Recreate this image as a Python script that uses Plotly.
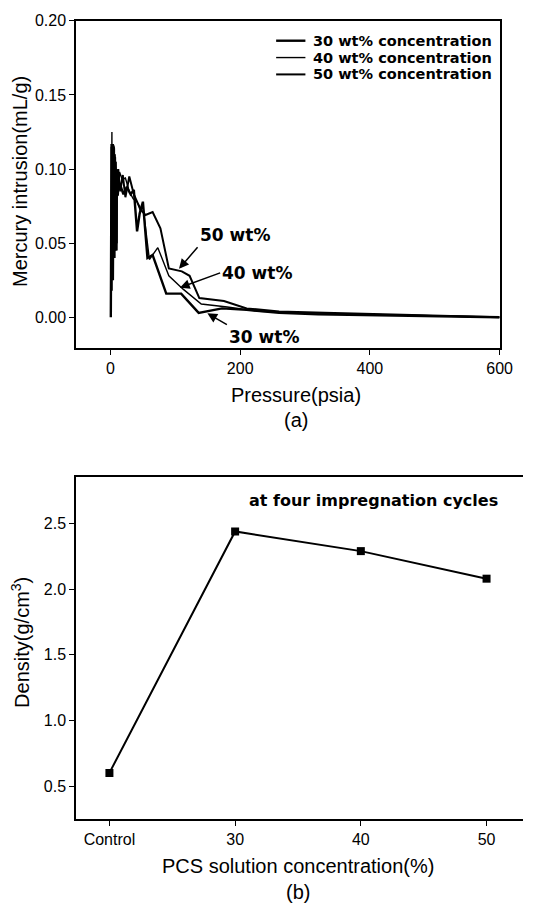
import plotly.graph_objects as go

# ---- Panel (a) data: mercury intrusion vs pressure ----
p30 = [0.5, 0.9, 1.3, 1.7, 2.1, 2.5, 2.9, 3.3, 3.7, 4.1, 4.5, 4.9, 5.3, 5.7, 6.1, 6.5, 6.9, 7.3, 7.7, 8.1, 8.5, 8.9, 9.3, 9.7, 11, 13, 16, 20, 25, 31, 36, 41, 45, 50, 57, 65, 86, 109, 136, 150, 172, 210, 260, 320, 400, 500, 600]
v30 = [0.0, 0.09, 0.02, 0.117, 0.03, 0.11, 0.045, 0.116, 0.025, 0.112, 0.05, 0.115, 0.045, 0.11, 0.04, 0.108, 0.05, 0.105, 0.045, 0.1, 0.05, 0.098, 0.045, 0.095, 0.085, 0.09, 0.088, 0.083, 0.088, 0.083, 0.086, 0.058, 0.070, 0.078, 0.040, 0.042, 0.016, 0.016, 0.003, 0.004, 0.006, 0.005, 0.003, 0.002, 0.0015, 0.001, 0.0]

p40 = [1.0, 1.4, 1.8, 2.2, 2.6, 3.0, 3.4, 3.8, 4.2, 4.6, 5.0, 5.4, 5.8, 6.2, 6.6, 7.0, 7.4, 7.8, 8.2, 8.6, 9.0, 9.4, 9.8, 10.2, 12, 14, 18, 23, 29, 35, 41, 46, 50, 60, 73, 90, 112, 140, 180, 230, 300, 400, 500, 600]
v40 = [0.02, 0.11, 0.035, 0.125, 0.04, 0.117, 0.03, 0.115, 0.045, 0.116, 0.05, 0.112, 0.04, 0.11, 0.05, 0.108, 0.045, 0.105, 0.05, 0.1, 0.055, 0.098, 0.05, 0.092, 0.082, 0.098, 0.093, 0.094, 0.085, 0.08, 0.078, 0.072, 0.075, 0.039, 0.047, 0.028, 0.019, 0.009, 0.007, 0.004, 0.003, 0.002, 0.001, 0.0]

p50 = [1.2, 1.6, 2.0, 2.4, 2.8, 3.2, 3.6, 4.0, 4.4, 4.8, 5.2, 5.6, 6.0, 6.4, 6.8, 7.2, 7.6, 8.0, 8.4, 8.8, 9.2, 9.6, 10, 12, 15, 19, 23, 29, 36, 42, 48, 54, 65, 77, 90, 110, 122, 137, 175, 210, 260, 330, 420, 520, 600]
v50 = [0.05, 0.115, 0.018, 0.112, 0.045, 0.116, 0.035, 0.117, 0.045, 0.116, 0.04, 0.114, 0.05, 0.11, 0.045, 0.108, 0.05, 0.105, 0.045, 0.1, 0.05, 0.095, 0.08, 0.1, 0.085, 0.096, 0.081, 0.095, 0.083, 0.077, 0.072, 0.069, 0.071, 0.060, 0.033, 0.031, 0.028, 0.013, 0.011, 0.006, 0.004, 0.003, 0.002, 0.001, 0.0]

series_names = ["30 wt% concentration", "40 wt% concentration", "50 wt% concentration"]
series_widths = [2.4, 1.4, 2.0]

# curve labels: text, arrow tail (text corner), arrow head (data units), text anchors
label_text = ["50 wt%", "40 wt%", "30 wt%"]
arrow_tail = [(134.3, 0.0473), (169.1, 0.030), (179.5, -0.0050)]
arrow_head = [(105.7, 0.0327), (107, 0.020), (149.4, 0.0027)]
label_yanchor = ["bottom", "middle", "top"]

# ---- Panel (b) data: density vs PCS concentration ----
conc_cats = ["Control", "30", "40", "50"]
density = [0.60, 2.44, 2.29, 2.08]

W, H = 536, 912
def fx(px):
    return px / W
def fy(py):
    return 1 - py / H

fig = go.Figure()
for (p, v), name, w in zip([(p30, v30), (p40, v40), (p50, v50)], series_names, series_widths):
    fig.add_trace(go.Scatter(x=p, y=v, mode="lines", name=name, showlegend=False,
                             line=dict(color="black", width=w),
                             xaxis="x", yaxis="y"))

fig.add_trace(go.Scatter(x=conc_cats, y=density, mode="lines+markers",
                         showlegend=False,
                         line=dict(color="black", width=2),
                         marker=dict(symbol="square", size=8, color="black"),
                         xaxis="x2", yaxis="y2"))

tickfont = dict(family="Liberation Sans, Arial", size=16, color="black")
axis_common = dict(showline=True, linecolor="black", linewidth=1.6, ticks="outside",
                   ticklen=5, tickwidth=1.3, tickcolor="black", showgrid=False,
                   zeroline=False, tickfont=tickfont)

fig.update_layout(
    width=W, height=H, margin=dict(l=0, r=0, t=0, b=0),
    paper_bgcolor="white", plot_bgcolor="white",
    xaxis=dict(domain=[fx(78), fx(512)], range=[-53, 600], tickvals=[0, 200, 400, 600],
               mirror=True, anchor="y", **axis_common),
    yaxis=dict(domain=[fy(343), fy(13)], range=[-0.0207, 0.2], tickvals=[0, 0.05, 0.10, 0.15, 0.20],
               tickformat=".2f", mirror=True, anchor="x", **axis_common),
    xaxis2=dict(domain=[fx(78), 1.0], range=[-0.265, 3.29], type="category",
                mirror=True, anchor="y2", **axis_common),
    yaxis2=dict(domain=[fy(818), fy(473)], range=[0.25, 2.856], tickvals=[0.5, 1.0, 1.5, 2.0, 2.5],
                tickformat=".1f", mirror=False, anchor="x2", **axis_common),
    showlegend=False,
)

# legend drawn as line swatches + labels (top-right of panel a)
legend_rows_y = [33, 50, 67]
shapes = []
ann = []
for name, w, ry in zip(series_names, series_widths, legend_rows_y):
    shapes.append(dict(type="line", xref="paper", yref="paper", x0=fx(283), x1=fx(313),
                       y0=fy(ry), y1=fy(ry), line=dict(color="black", width=w)))
    ann.append(dict(text="<b>%s</b>" % name, x=fx(319), y=fy(ry), xref="paper", yref="paper",
                    xanchor="left", yanchor="middle", showarrow=False,
                    font=dict(family="DejaVu Sans", size=14.5, color="black")))

titlefont = dict(family="Liberation Sans, Arial", size=20, color="black")
def title_ann(text, px, py, angle=0):
    return dict(text=text, x=fx(px), y=fy(py), xref="paper", yref="paper",
                xanchor="center", yanchor="middle", textangle=angle,
                showarrow=False, font=titlefont)

ann.append(title_ann("Mercury intrusion(mL/g)", 21, 175, -90))
ann.append(title_ann("Pressure(psia)", 303, 390))
ann.append(title_ann("(a)", 303, 416))
ann.append(title_ann("Density(g/cm<sup>3</sup>)", 21, 640, -90))
ann.append(title_ann("PCS solution concentration(%)", 305, 866))
ann.append(title_ann("(b)", 305, 892))
ann.append(dict(text="<b>at four impregnation cycles</b>", x=fx(512), y=fy(497), xref="paper", yref="paper",
                xanchor="right", yanchor="middle", showarrow=False,
                font=dict(family="DejaVu Sans", size=16, color="black")))

for t, (ax, ay), (hx, hy), ya in zip(label_text, arrow_tail, arrow_head, label_yanchor):
    ann.append(dict(text="<b>%s</b>" % t, x=hx, y=hy, ax=ax, ay=ay, xref="x", yref="y",
                    axref="x", ayref="y", xanchor="left", yanchor=ya,
                    showarrow=True, arrowhead=2, arrowsize=1.3, arrowwidth=1.5, arrowcolor="black",
                    font=dict(family="DejaVu Sans", size=17, color="black")))

fig.update_layout(annotations=ann, shapes=shapes)
fig.write_html("out.html", config={"displayModeBar": False},
               post_script="document.body.style.margin='0';document.body.style.overflow='hidden';")
